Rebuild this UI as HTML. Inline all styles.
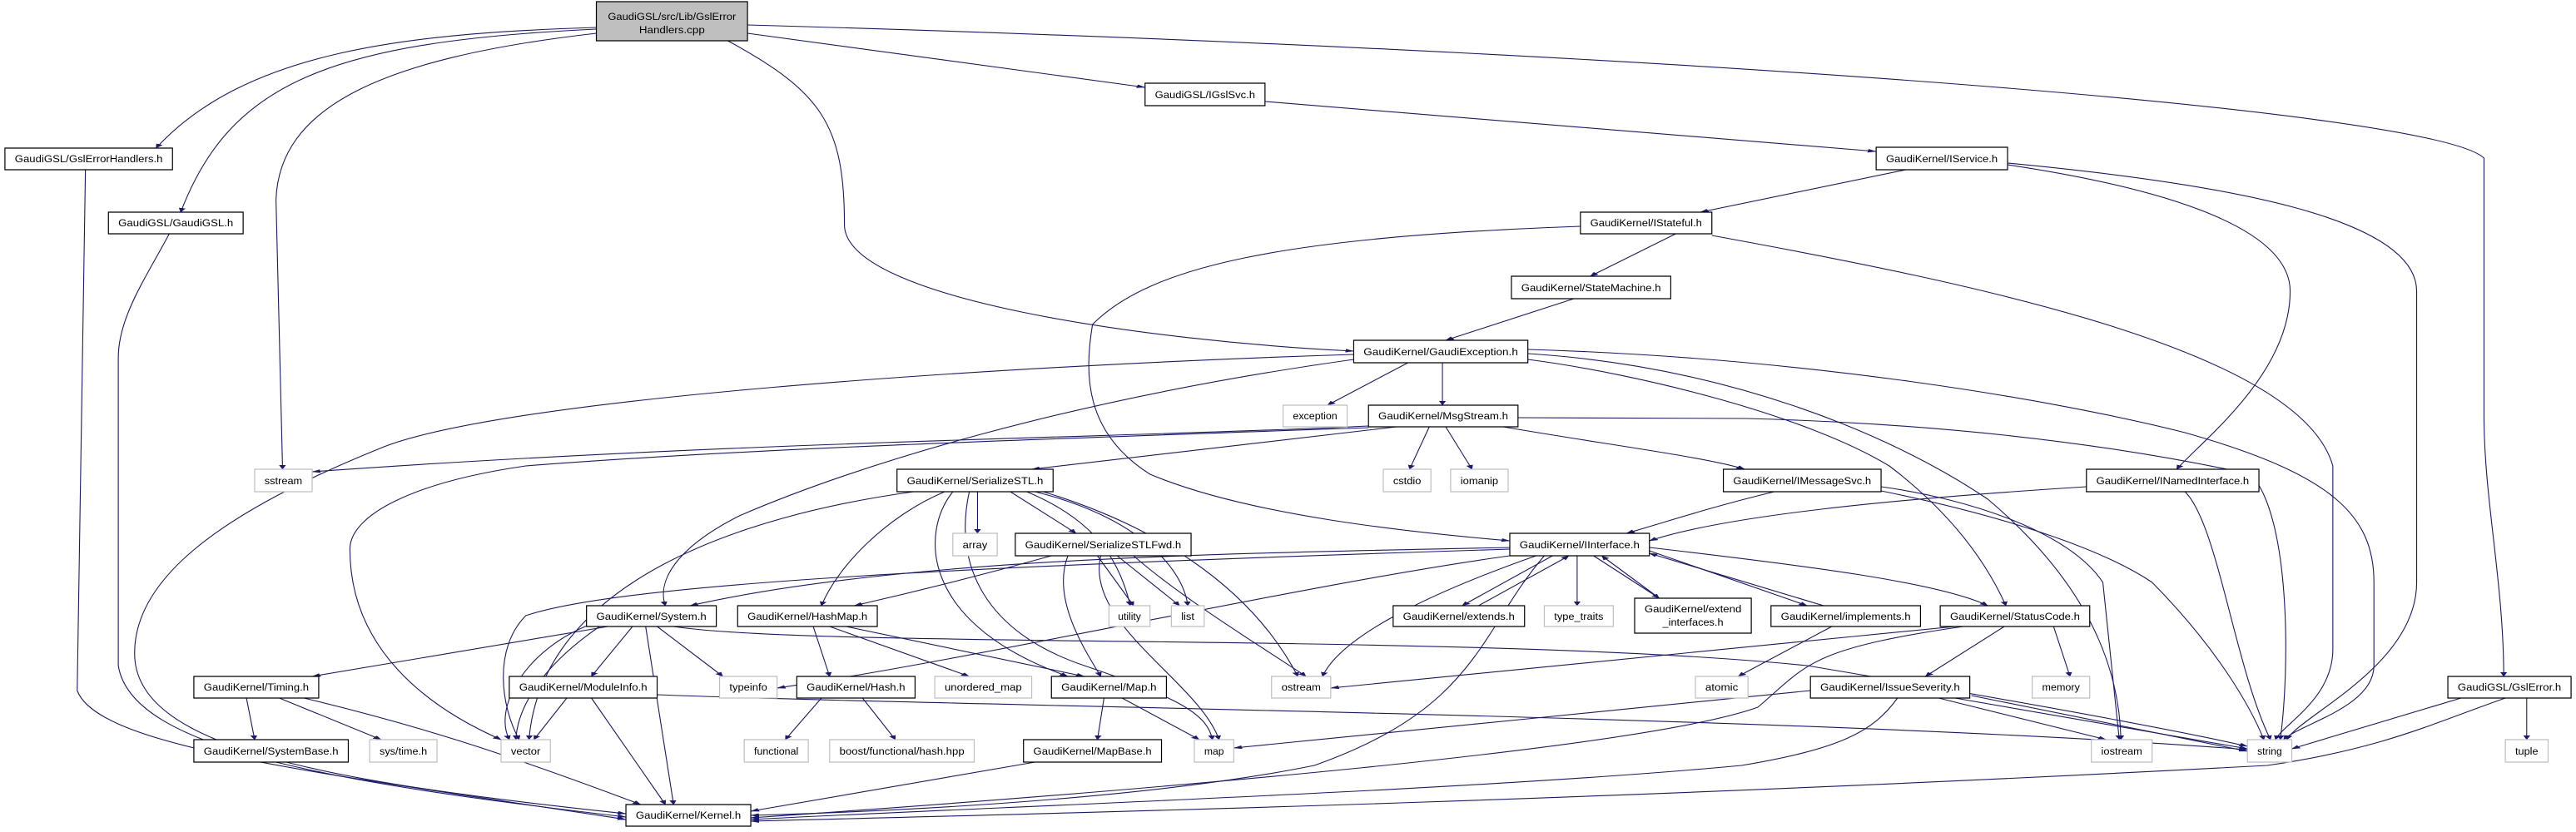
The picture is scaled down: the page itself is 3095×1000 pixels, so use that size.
<!DOCTYPE html>
<html><head><meta charset="utf-8"><style>
html,body{margin:0;padding:0;background:#fff;}
svg{display:block;}
text{font-family:"Liberation Sans",Arial,sans-serif;font-size:12px;fill:#000;}
g.e path{fill:none;stroke:#191970;stroke-width:1.1;vector-effect:non-scaling-stroke;}
rect{stroke-width:1.2;vector-effect:non-scaling-stroke;}
</style></head><body>
<svg width="3095" height="1000" viewBox="0 0 1568 1000" preserveAspectRatio="none" xmlns="http://www.w3.org/2000/svg">
<defs>
<marker id="a" viewBox="0 0 10 10" markerWidth="5" markerHeight="7" refX="10" refY="5" orient="auto" markerUnits="userSpaceOnUse">
<path d="M0,1 L10,5 L0,9 z" style="fill:#191970;stroke:#191970;stroke-width:0.5"/>
</marker>
</defs>
<g class="e" marker-end="url(#a)">
<path d="M363,33 C250,40 150,60 95,178"/>
<path d="M363,35 C200,50 140,100 110,255"/>
<path d="M363,40 C230,70 170,130 168,240 L172,564"/>
<path d="M443,49 C500,110 514,150 514,270 C514,360 700,410 824,422"/>
<path d="M455,40 L697,105"/>
<path d="M455,30 C1000,60 1480,130 1512,190 L1512,500 C1512,600 1524,700 1524,813"/>
<path d="M770,122 L1142,182"/>
<path d="M1160,204 L1035,255"/>
<path d="M1222,198 C1330,230 1394,280 1394,350 C1394,450 1340,530 1325,564"/>
<path d="M1222,196 C1350,220 1471,260 1471,350 L1471,700 C1471,800 1400,860 1392,889"/>
<path d="M1020,281 L968,332"/>
<path d="M962,272 C780,285 700,320 665,390 C660,450 660,520 700,570 C760,620 860,640 919,650"/>
<path d="M1042,283 C1200,340 1400,420 1420,560 L1420,780 C1420,840 1390,870 1385,889"/>
<path d="M958,359 L880,409"/>
<path d="M857,436 L808,487"/>
<path d="M878,436 L878,487"/>
<path d="M824,426 C600,440 300,480 230,540 C130,620 80,700 82,790 C85,900 200,940 381,978"/>
<path d="M824,432 C650,480 520,560 450,620 C410,660 400,700 405,728"/>
<path d="M930,432 C1000,450 1100,500 1150,560 C1190,620 1210,680 1221,728"/>
<path d="M930,425 C1050,440 1150,520 1210,600 C1270,700 1290,800 1291,889"/>
<path d="M930,420 C1100,430 1250,480 1330,520 C1420,570 1445,620 1445,700 L1445,800 C1445,850 1400,870 1390,889"/>
<path d="M833,512 C700,525 450,530 190,567"/>
<path d="M833,514 C600,530 450,540 320,560 C250,580 213,620 213,660 C213,780 260,850 305,889"/>
<path d="M870,513 L858,564"/>
<path d="M880,513 L896,564"/>
<path d="M850,513 L628,564"/>
<path d="M915,513 C980,535 1040,550 1062,564"/>
<path d="M924,502 L1063,503 C1200,510 1300,540 1370,570 C1394,620 1394,800 1388,889"/>
<path d="M1080,591 C1040,610 1010,630 990,641"/>
<path d="M1145,585 C1200,600 1260,640 1280,700 L1290,889"/>
<path d="M1145,590 C1220,620 1280,660 1310,700 C1350,780 1370,850 1378,889"/>
<path d="M1270,585 C1150,600 1050,620 1004,650"/>
<path d="M1330,591 C1350,630 1360,800 1382,889"/>
<path d="M595,591 L595,641"/>
<path d="M615,591 L655,641"/>
<path d="M556,591 C450,620 330,700 322,889"/>
<path d="M575,591 C540,620 510,680 500,728"/>
<path d="M580,591 C560,640 560,750 650,813"/>
<path d="M590,591 C580,680 600,760 660,800 C720,840 735,860 738,889"/>
<path d="M625,591 C660,620 680,660 688,728"/>
<path d="M630,591 C690,620 720,680 723,728"/>
<path d="M635,591 C700,630 760,700 790,813"/>
<path d="M640,668 C600,690 560,710 520,728"/>
<path d="M650,668 C640,720 660,780 670,813"/>
<path d="M668,668 L690,728"/>
<path d="M680,668 L718,728"/>
<path d="M670,668 C660,750 730,820 742,889"/>
<path d="M690,668 C720,720 770,780 795,813"/>
<path d="M919,658 C750,665 550,670 420,728"/>
<path d="M919,660 C600,680 380,700 320,740 C300,780 305,850 316,889"/>
<path d="M945,668 L890,728"/>
<path d="M900,728 L955,668"/>
<path d="M960,668 L960,728"/>
<path d="M970,668 L1010,719"/>
<path d="M1010,719 L975,668"/>
<path d="M1004,662 L1100,728"/>
<path d="M1110,728 L1004,665"/>
<path d="M1004,658 C1100,680 1180,700 1210,728"/>
<path d="M935,668 C860,720 815,770 805,813"/>
<path d="M940,668 C900,760 900,850 800,920 C700,960 550,975 457,980"/>
<path d="M919,668 C800,700 600,790 473,827"/>
<path d="M1115,753 L1058,813"/>
<path d="M1190,753 C1050,780 900,810 810,827"/>
<path d="M1220,753 L1172,813"/>
<path d="M1250,753 L1260,813"/>
<path d="M1195,753 C1100,780 1100,800 1070,850 C1000,900 700,950 457,983"/>
<path d="M1102,830 C1000,850 850,880 751,899"/>
<path d="M1180,839 L1282,889"/>
<path d="M1190,839 L1368,900"/>
<path d="M1200,836 L1368,903"/>
<path d="M1155,839 C1140,880 1120,900 1060,920 C900,950 600,970 457,985"/>
<path d="M370,753 L190,813"/>
<path d="M385,753 L360,813"/>
<path d="M400,753 L440,813"/>
<path d="M360,750 C320,780 300,850 310,889"/>
<path d="M365,753 C330,800 315,850 314,889"/>
<path d="M393,753 L410,967"/>
<path d="M410,753 C500,780 900,760 1100,800 C1250,850 1330,880 1368,897"/>
<path d="M495,753 L505,813"/>
<path d="M505,753 L590,813"/>
<path d="M515,753 L660,813"/>
<path d="M500,839 L478,889"/>
<path d="M525,839 L545,889"/>
<path d="M672,839 L668,889"/>
<path d="M683,839 L730,889"/>
<path d="M630,916 L457,975"/>
<path d="M150,839 L155,889"/>
<path d="M170,839 L232,889"/>
<path d="M185,839 C250,870 300,900 390,967"/>
<path d="M345,839 L325,889"/>
<path d="M360,839 L405,967"/>
<path d="M400,835 C600,850 1100,860 1368,901"/>
<path d="M1498,839 L1395,900"/>
<path d="M1538,839 L1538,889"/>
<path d="M1525,839 C1480,870 1450,900 1380,920 C1000,960 700,975 457,987"/>
<path d="M52,204 L47,830 C60,900 200,930 381,985"/>
<path d="M103,281 C90,330 72,380 72,430 L72,800 C80,900 200,940 381,982"/>
</g>
<g fill="#fff" stroke="#000">
<rect x="363" y="2" width="92" height="47" fill="#bfbfbf"/>
<rect x="3" y="178" width="102" height="26"/>
<rect x="66" y="255" width="82" height="26"/>
<rect x="697" y="100" width="73" height="27"/>
<rect x="1142" y="177" width="80" height="27"/>
<rect x="962" y="255" width="80" height="26"/>
<rect x="920" y="332" width="97" height="27"/>
<rect x="824" y="409" width="106" height="27"/>
<rect x="833" y="487" width="91" height="26"/>
<rect x="546" y="564" width="95" height="27"/>
<rect x="1049" y="564" width="96" height="27"/>
<rect x="1270" y="564" width="105" height="27"/>
<rect x="618" y="641" width="107" height="27"/>
<rect x="919" y="641" width="85" height="27"/>
<rect x="357" y="728" width="79" height="25"/>
<rect x="449" y="728" width="85" height="25"/>
<rect x="848" y="728" width="80" height="25"/>
<rect x="995" y="719" width="71" height="42"/>
<rect x="1078" y="728" width="91" height="25"/>
<rect x="1181" y="728" width="91" height="25"/>
<rect x="118" y="813" width="76" height="26"/>
<rect x="310" y="813" width="90" height="26"/>
<rect x="485" y="813" width="72" height="26"/>
<rect x="640" y="813" width="70" height="26"/>
<rect x="1102" y="813" width="97" height="26"/>
<rect x="1490" y="813" width="75" height="26"/>
<rect x="118" y="889" width="94" height="27"/>
<rect x="623" y="889" width="84" height="27"/>
<rect x="381" y="967" width="76" height="26"/>
</g>
<g fill="#fff" stroke="#bfbfbf">
<rect x="781" y="487" width="39" height="26"/>
<rect x="155" y="564" width="35" height="27"/>
<rect x="842" y="564" width="29" height="27"/>
<rect x="883" y="564" width="35" height="27"/>
<rect x="580" y="641" width="27" height="27"/>
<rect x="675" y="728" width="25" height="25"/>
<rect x="713" y="728" width="20" height="25"/>
<rect x="940" y="728" width="42" height="25"/>
<rect x="438" y="813" width="35" height="26"/>
<rect x="569" y="813" width="59" height="26"/>
<rect x="774" y="813" width="36" height="26"/>
<rect x="1032" y="813" width="32" height="26"/>
<rect x="1237" y="813" width="35" height="26"/>
<rect x="225" y="889" width="41" height="27"/>
<rect x="305" y="889" width="30" height="27"/>
<rect x="453" y="889" width="39" height="27"/>
<rect x="505" y="889" width="88" height="27"/>
<rect x="727" y="889" width="24" height="27"/>
<rect x="1273" y="889" width="37" height="27"/>
<rect x="1368" y="889" width="27" height="27"/>
<rect x="1525" y="889" width="26" height="27"/>
</g>
<g text-anchor="middle">
<text x="409" y="24" textLength="78" lengthAdjust="spacingAndGlyphs">GaudiGSL/src/Lib/GslError</text>
<text x="409" y="40" textLength="40" lengthAdjust="spacingAndGlyphs">Handlers.cpp</text>
<text x="54" y="195" textLength="90" lengthAdjust="spacingAndGlyphs">GaudiGSL/GslErrorHandlers.h</text>
<text x="107" y="272" textLength="70" lengthAdjust="spacingAndGlyphs">GaudiGSL/GaudiGSL.h</text>
<text x="733.5" y="118" textLength="61" lengthAdjust="spacingAndGlyphs">GaudiGSL/IGslSvc.h</text>
<text x="1182" y="195" textLength="68" lengthAdjust="spacingAndGlyphs">GaudiKernel/IService.h</text>
<text x="1002" y="272" textLength="68" lengthAdjust="spacingAndGlyphs">GaudiKernel/IStateful.h</text>
<text x="968.5" y="350" textLength="85" lengthAdjust="spacingAndGlyphs">GaudiKernel/StateMachine.h</text>
<text x="877" y="427" textLength="94" lengthAdjust="spacingAndGlyphs">GaudiKernel/GaudiException.h</text>
<text x="878.5" y="504" textLength="79" lengthAdjust="spacingAndGlyphs">GaudiKernel/MsgStream.h</text>
<text x="593.5" y="582" textLength="83" lengthAdjust="spacingAndGlyphs">GaudiKernel/SerializeSTL.h</text>
<text x="1097" y="582" textLength="84" lengthAdjust="spacingAndGlyphs">GaudiKernel/IMessageSvc.h</text>
<text x="1322.5" y="582" textLength="93" lengthAdjust="spacingAndGlyphs">GaudiKernel/INamedInterface.h</text>
<text x="671.5" y="659" textLength="95" lengthAdjust="spacingAndGlyphs">GaudiKernel/SerializeSTLFwd.h</text>
<text x="961.5" y="659" textLength="73" lengthAdjust="spacingAndGlyphs">GaudiKernel/IInterface.h</text>
<text x="396.5" y="745" textLength="67" lengthAdjust="spacingAndGlyphs">GaudiKernel/System.h</text>
<text x="491.5" y="745" textLength="73" lengthAdjust="spacingAndGlyphs">GaudiKernel/HashMap.h</text>
<text x="888" y="745" textLength="68" lengthAdjust="spacingAndGlyphs">GaudiKernel/extends.h</text>
<text x="1030.5" y="736" textLength="59" lengthAdjust="spacingAndGlyphs">GaudiKernel/extend</text>
<text x="1030.5" y="752" textLength="37" lengthAdjust="spacingAndGlyphs">_interfaces.h</text>
<text x="1123.5" y="745" textLength="79" lengthAdjust="spacingAndGlyphs">GaudiKernel/implements.h</text>
<text x="1226.5" y="745" textLength="79" lengthAdjust="spacingAndGlyphs">GaudiKernel/StatusCode.h</text>
<text x="156" y="830" textLength="64" lengthAdjust="spacingAndGlyphs">GaudiKernel/Timing.h</text>
<text x="355" y="830" textLength="78" lengthAdjust="spacingAndGlyphs">GaudiKernel/ModuleInfo.h</text>
<text x="521" y="830" textLength="60" lengthAdjust="spacingAndGlyphs">GaudiKernel/Hash.h</text>
<text x="675" y="830" textLength="58" lengthAdjust="spacingAndGlyphs">GaudiKernel/Map.h</text>
<text x="1150.5" y="830" textLength="85" lengthAdjust="spacingAndGlyphs">GaudiKernel/IssueSeverity.h</text>
<text x="1527.5" y="830" textLength="63" lengthAdjust="spacingAndGlyphs">GaudiGSL/GslError.h</text>
<text x="165" y="907" textLength="82" lengthAdjust="spacingAndGlyphs">GaudiKernel/SystemBase.h</text>
<text x="665" y="907" textLength="72" lengthAdjust="spacingAndGlyphs">GaudiKernel/MapBase.h</text>
<text x="419" y="984" textLength="64" lengthAdjust="spacingAndGlyphs">GaudiKernel/Kernel.h</text>
<text x="800.5" y="504" textLength="27" lengthAdjust="spacingAndGlyphs">exception</text>
<text x="172.5" y="582" textLength="23" lengthAdjust="spacingAndGlyphs">sstream</text>
<text x="856.5" y="582" textLength="17" lengthAdjust="spacingAndGlyphs">cstdio</text>
<text x="900.5" y="582" textLength="23" lengthAdjust="spacingAndGlyphs">iomanip</text>
<text x="593.5" y="659" textLength="15" lengthAdjust="spacingAndGlyphs">array</text>
<text x="687.5" y="745" textLength="14" lengthAdjust="spacingAndGlyphs">utility</text>
<text x="723" y="745" textLength="8" lengthAdjust="spacingAndGlyphs">list</text>
<text x="961" y="745" textLength="30" lengthAdjust="spacingAndGlyphs">type_traits</text>
<text x="455.5" y="830" textLength="23" lengthAdjust="spacingAndGlyphs">typeinfo</text>
<text x="598.5" y="830" textLength="47" lengthAdjust="spacingAndGlyphs">unordered_map</text>
<text x="792" y="830" textLength="24" lengthAdjust="spacingAndGlyphs">ostream</text>
<text x="1048" y="830" textLength="20" lengthAdjust="spacingAndGlyphs">atomic</text>
<text x="1254.5" y="830" textLength="23" lengthAdjust="spacingAndGlyphs">memory</text>
<text x="245.5" y="907" textLength="29" lengthAdjust="spacingAndGlyphs">sys/time.h</text>
<text x="320" y="907" textLength="18" lengthAdjust="spacingAndGlyphs">vector</text>
<text x="472.5" y="907" textLength="27" lengthAdjust="spacingAndGlyphs">functional</text>
<text x="549" y="907" textLength="76" lengthAdjust="spacingAndGlyphs">boost/functional/hash.hpp</text>
<text x="739" y="907" textLength="12" lengthAdjust="spacingAndGlyphs">map</text>
<text x="1291.5" y="907" textLength="25" lengthAdjust="spacingAndGlyphs">iostream</text>
<text x="1381.5" y="907" textLength="15" lengthAdjust="spacingAndGlyphs">string</text>
<text x="1538" y="907" textLength="14" lengthAdjust="spacingAndGlyphs">tuple</text>
</g>
</svg>
</body></html>
